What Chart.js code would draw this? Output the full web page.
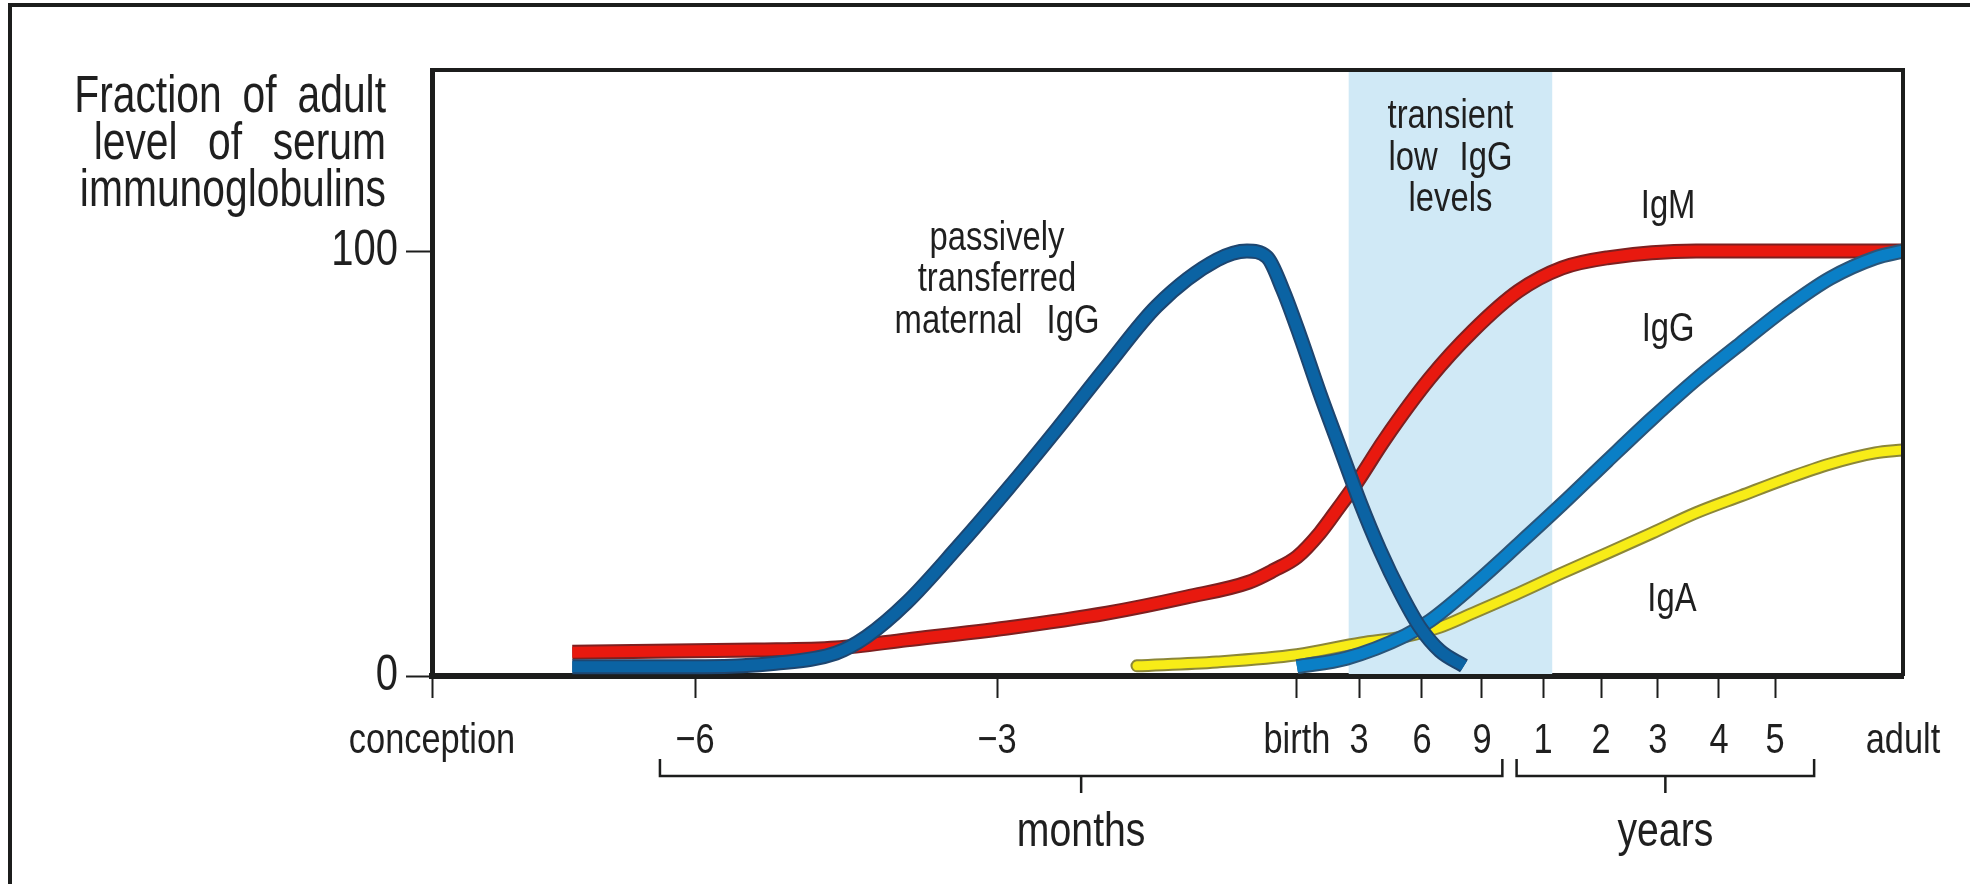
<!DOCTYPE html>
<html>
<head>
<meta charset="utf-8">
<script src="https://cdn.jsdelivr.net/npm/chart.js@4.4.1/dist/chart.umd.min.js"></script>
<style>
html,body{margin:0;padding:0;background:#fff;overflow:hidden}
canvas{display:block}
</style>
</head>
<body>
<canvas id="c" width="1970" height="884" style="width:1970px;height:884px"></canvas>
<script>
// ---------- DATA ----------
// x values are age in months relative to birth (conception = -9, adult shown at 96)
const xTickMonths = [-9, -6, -3, 0, 3, 6, 9, 12, 24, 36, 48, 60, 96];
const xTickLabels = ['conception', '\u22126', '\u22123', 'birth', '3', '6', '9', '1', '2', '3', '4', '5', 'adult'];
const yTickValues = [0, 100];

const maternalIgGMonths = [-7.4, -5.9, -5.2, -4.6, -4.3, -3.9, -3.4, -2.9, -2.4, -1.9, -1.4, -0.8, -0.5, -0.3, -0.14, 0.15, 1.1, 2.1, 3.05, 4.0, 4.95, 5.9, 6.9, 8.1];
const maternalIgGLevel  = [2.2, 2.2, 3, 5.4, 9.2, 17.2, 30.1, 43.8, 58.1, 72.9, 87.1, 97.9, 100, 98.6, 90.8, 80.0, 66.6, 53.4, 40.9, 29.6, 19.8, 11.5, 5.9, 2.4];

const igMMonths = [-7.4, -5.4, -4.6, -3.9, -2.9, -1.9, -1.1, -0.48, -0.23, 0, 1.1, 2.0, 2.9, 4.2, 6.4, 8.55, 10.8, 15.9, 25.3, 43.5, 63, 96];
const igMLevel  = [5.6, 6.1, 6.6, 8.5, 11.3, 14.8, 18.6, 22.1, 24.9, 28, 33.6, 39.5, 45.6, 55.5, 70.1, 81.2, 90.6, 96, 98.4, 100, 100, 100];

const igGMonths = [0, 2.4, 5.2, 6.4, 8.6, 10.8, 15.9, 25.3, 34.7, 43.5, 52.7, 63.1, 75.5, 88.2, 96];
const igGLevel  = [2.2, 4.2, 9.5, 13, 21.5, 31, 40.4, 50.6, 60.5, 69.8, 78.3, 86.6, 93.6, 98.4, 100];

const igAMonths = [-1.6, -0.8, 0, 3.1, 5.1, 6.9, 8.55, 10.8, 15.9, 25.3, 34.7, 43.5, 52.7, 63.1, 75.5, 88.2, 96];
const igALevel  = [2.4, 3.3, 5, 7.8, 9.2, 11.5, 14.8, 19.5, 24.2, 28.9, 33.6, 38.4, 42.4, 46.4, 49.9, 52.5, 53.2];

const lowIgGBand = [2.5, 13.9];       // months, shaded "transient low IgG levels"
const monthsBracket = [-6.4, 10.0];   // months
const yearsBracket = [10.7, 71];      // months

// ---------- STYLE / LAYOUT ----------
const xAxisFractions = [0, 0.1788, 0.3841, 0.5880, 0.6302, 0.6730, 0.7138, 0.7553, 0.7947, 0.8334, 0.8749, 0.9130, 1];
const FONT = "'Liberation Sans', Arial, sans-serif";
const TEXT_SX = 0.8;   // condensed lettering
const INK = '#1c1d1c';
const TXT = '#1f1f1f';

const pts = (xs, ys) => xs.map((x, i) => ({x: x, y: ys[i]}));

// tick labels drawn condensed, from the scale's own label items
function condensedDrawLabels(chartArea) {
  if (!this.options.ticks.display) return;
  const ctx = this.ctx;
  for (const item of this.getLabelItems(chartArea)) {
    const o = item.options;
    ctx.save();
    ctx.translate(o.translation[0], o.translation[1]);
    if (o.rotation) ctx.rotate(o.rotation);
    ctx.scale(TEXT_SX, 1);
    ctx.font = item.font.string;
    ctx.fillStyle = o.color;
    ctx.textAlign = o.textAlign;
    ctx.textBaseline = o.textBaseline;
    const lines = Array.isArray(item.label) ? item.label : [item.label];
    let yy = item.textOffset;
    for (const line of lines) { ctx.fillText(String(line), 0, yy); yy += item.font.lineHeight; }
    ctx.restore();
  }
}

const LinearScale = Chart.LinearScale;
class CondensedLinearScale extends LinearScale {}
CondensedLinearScale.prototype.drawLabels = condensedDrawLabels;
CondensedLinearScale.id = 'condensedLinear';
CondensedLinearScale.defaults = LinearScale.defaults;

// piecewise-linear x axis (uneven spacing of months / years)
class PiecewiseScale extends LinearScale {
  getPixelForValue(value) {
    if (value === null || value === undefined || isNaN(value)) return NaN;
    const v = xTickMonths, f = xAxisFractions;
    let i = 0;
    if (value >= v[v.length - 1]) i = v.length - 2;
    else if (value > v[0]) { while (i < v.length - 2 && value > v[i + 1]) i++; }
    const t = (value - v[i]) / (v[i + 1] - v[i]);
    return this.getPixelForDecimal(f[i] + t * (f[i + 1] - f[i]));
  }
  getValueForPixel(pixel) {
    const d = this.getDecimalForPixel(pixel);
    const v = xTickMonths, f = xAxisFractions;
    let i = 0;
    if (d >= f[f.length - 1]) i = f.length - 2;
    else if (d > f[0]) { while (i < f.length - 2 && d > f[i + 1]) i++; }
    const t = (d - f[i]) / (f[i + 1] - f[i]);
    return v[i] + t * (v[i + 1] - v[i]);
  }
}
PiecewiseScale.prototype.drawLabels = condensedDrawLabels;
PiecewiseScale.id = 'piecewise';
PiecewiseScale.defaults = LinearScale.defaults;
Chart.register(CondensedLinearScale, PiecewiseScale);

function drawText(ctx, text, x, y, size, align, wordSp) {
  ctx.save();
  ctx.translate(x, y);
  ctx.scale(TEXT_SX, 1);
  ctx.font = size + 'px ' + FONT;
  ctx.fillStyle = TXT;
  ctx.textAlign = align || 'center';
  ctx.textBaseline = 'middle';
  if ('wordSpacing' in ctx) ctx.wordSpacing = (wordSp || 0) + 'px';
  ctx.fillText(text, 0, 0);
  ctx.restore();
}

const decorPlugin = {
  id: 'decor',
  beforeDatasetsDraw(chart) {
    const {ctx, chartArea: a, scales: {x}} = chart;
    const x1 = x.getPixelForValue(lowIgGBand[0]);
    const x2 = x.getPixelForValue(lowIgGBand[1]);
    ctx.save();
    ctx.fillStyle = '#d0e9f6';
    ctx.fillRect(x1, a.top, x2 - x1, a.bottom - a.top - 2);
    ctx.restore();
  },
  afterDraw(chart) {
    const {ctx, chartArea: a, scales: {x, y}} = chart;
    ctx.save();
    ctx.strokeStyle = INK;
    // outer frame (top + left)
    ctx.lineWidth = 4;
    ctx.beginPath();
    ctx.moveTo(10, 884); ctx.lineTo(10, 5); ctx.lineTo(1970, 5);
    ctx.stroke();
    // plot box top + right
    ctx.beginPath();
    ctx.moveTo(a.left - 2, a.top); ctx.lineTo(a.right, a.top); ctx.lineTo(a.right, a.bottom);
    ctx.stroke();
    // brackets
    ctx.lineWidth = 2.5;
    const yb = a.bottom;
    const br = (range, label) => {
      const p1 = x.getPixelForValue(range[0]), p2 = x.getPixelForValue(range[1]);
      const xm = (p1 + p2) / 2;
      ctx.beginPath();
      ctx.moveTo(p1, yb + 83); ctx.lineTo(p1, yb + 100); ctx.lineTo(p2, yb + 100); ctx.lineTo(p2, yb + 83);
      ctx.moveTo(xm, yb + 100); ctx.lineTo(xm, yb + 117);
      ctx.stroke();
      drawText(ctx, label, xm, yb + 156, 49);
    };
    br(monthsBracket, 'months');
    br(yearsBracket, 'years');
    ctx.restore();

    // y-axis title
    const tx = a.left - 46;
    drawText(ctx, 'Fraction of adult', tx, a.top + 28, 51, 'right', 12);
    drawText(ctx, 'level of serum', tx, a.top + 75, 51, 'right', 24);
    drawText(ctx, 'immunoglobulins', tx, a.top + 122, 51, 'right', 0);

    // annotations
    const mx = x.getPixelForValue(-3.0), my = y.getPixelForValue(103);
    drawText(ctx, 'passively', mx, my, 41);
    drawText(ctx, 'transferred', mx, my + 41, 41);
    drawText(ctx, 'maternal IgG', mx, my + 83, 41, 'center', 19);

    const bx = (x.getPixelForValue(lowIgGBand[0]) + x.getPixelForValue(lowIgGBand[1])) / 2;
    const by = y.getPixelForValue(131.7);
    drawText(ctx, 'transient', bx, by, 41);
    drawText(ctx, 'low IgG', bx, by + 42, 41, 'center', 16);
    drawText(ctx, 'levels', bx, by + 83, 41);

    drawText(ctx, 'IgM', x.getPixelForValue(38), y.getPixelForValue(110.4), 41);
    drawText(ctx, 'IgG', x.getPixelForValue(38), y.getPixelForValue(81.4), 41);
    drawText(ctx, 'IgA', x.getPixelForValue(38.75), y.getPixelForValue(17.9), 41);
  }
};

function lineSet(label, xs, ys, color, width, cap) {
  return {
    label: label,
    data: pts(xs, ys),
    borderColor: color,
    borderWidth: width,
    borderCapStyle: cap || 'butt',
    borderJoinStyle: 'round',
    cubicInterpolationMode: 'monotone',
    pointRadius: 0,
    pointHoverRadius: 0,
    fill: false,
    clip: {left: 20, top: 20, right: 0, bottom: 20}
  };
}

// first dataset is drawn on top
const datasets = [
  lineSet('passively transferred maternal IgG', maternalIgGMonths, maternalIgGLevel, '#0b63a3', 11),
  lineSet('maternal IgG outline', maternalIgGMonths, maternalIgGLevel, '#1e4670', 15),
  lineSet('IgG', igGMonths, igGLevel, '#0a7fc6', 11),
  lineSet('IgG outline', igGMonths, igGLevel, '#2a5579', 15),
  lineSet('IgM', igMMonths, igMLevel, '#e8190f', 11),
  lineSet('IgM outline', igMMonths, igMLevel, '#7d2020', 15),
  lineSet('IgA', igAMonths, igALevel, '#f7ec17', 9, 'round'),
  lineSet('IgA outline', igAMonths, igALevel, '#8c8738', 13, 'round')
];

new Chart(document.getElementById('c'), {
  type: 'line',
  data: {datasets: datasets},
  options: {
    responsive: false,
    devicePixelRatio: 1,
    animation: false,
    events: [],
    layout: {padding: {top: 70, right: 67, left: 0, bottom: 0}},
    plugins: {legend: {display: false}, tooltip: {enabled: false}},
    scales: {
      x: {
        type: 'piecewise',
        min: -9,
        max: 96,
        afterFit: s => { s.height = 208; },
        afterBuildTicks: s => { s.ticks = xTickMonths.map(v => ({value: v})); },
        border: {display: true, color: INK, width: 6},
        grid: {
          drawOnChartArea: false,
          drawTicks: true,
          tickLength: 22,
          tickWidth: 2,
          tickColor: c => (c.tick && c.tick.value === xTickMonths[xTickMonths.length - 1]) ? 'rgba(0,0,0,0)' : INK
        },
        ticks: {
          autoSkip: false,
          maxRotation: 0,
          minRotation: 0,
          padding: 17,
          color: TXT,
          font: {family: FONT, size: 43},
          callback: (value, index) => xTickLabels[index]
        }
      },
      y: {
        type: 'condensedLinear',
        min: 0,
        max: 142.6,
        afterFit: s => { s.width = 432; },
        afterBuildTicks: s => { s.ticks = yTickValues.map(v => ({value: v})); },
        border: {display: true, color: INK, width: 5},
        grid: {drawOnChartArea: false, drawTicks: true, tickLength: 26, tickWidth: 2, tickColor: INK},
        ticks: {
          padding: 8,
          color: TXT,
          font: {family: FONT, size: 50},
          callback: v => String(v)
        }
      }
    }
  },
  plugins: [decorPlugin]
});
</script>
</body>
</html>
